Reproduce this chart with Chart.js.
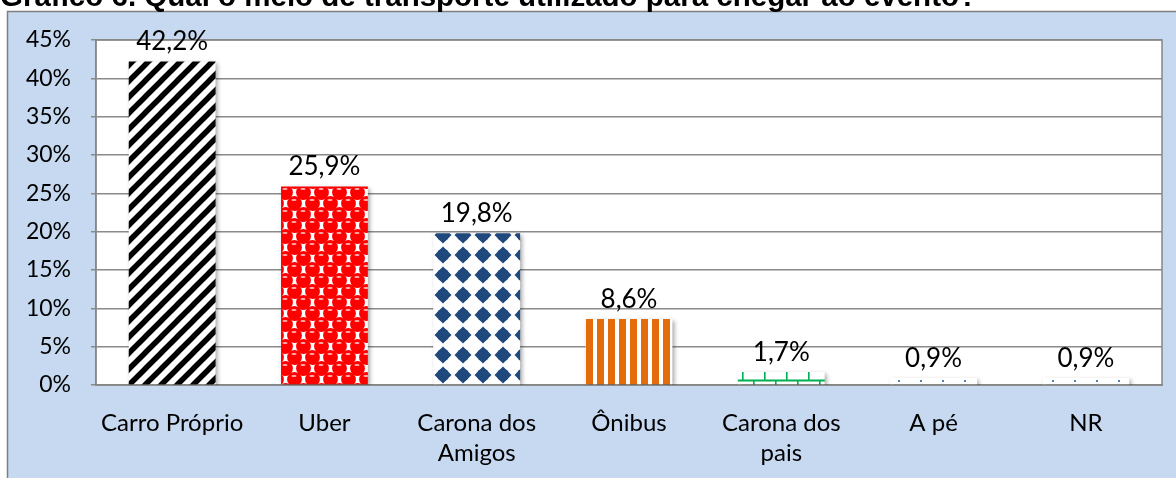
<!DOCTYPE html>
<html>
<head>
<meta charset="utf-8">
<script src="https://cdn.jsdelivr.net/npm/chart.js@4/dist/chart.umd.min.js"></script>
<style>
  html, body { margin: 0; padding: 0; background: #fff; }
  canvas { display: block; }
</style>
</head>
<body>
<canvas id="transportChart" width="1176" height="478"></canvas>
<script>
const chartTitle = 'Gráfico 6. Qual o meio de transporte utilizado para chegar ao evento?';
const categories = ['Carro Próprio', 'Uber', ['Carona dos', 'Amigos'], 'Ônibus', ['Carona dos', 'pais'], 'A pé', 'NR'];
const percentages = [42.2, 25.9, 19.8, 8.6, 1.7, 0.9, 0.9];
const valueLabels = ['42,2%', '25,9%', '19,8%', '8,6%', '1,7%', '0,9%', '0,9%'];
const yMin = 0, yMax = 45, yStep = 5;

const canvas = document.getElementById('transportChart');
const ctx = canvas.getContext('2d');

// small tiles that imitate the Excel fill patterns
function makePattern(w, h, draw) {
    const c = document.createElement('canvas');
    c.width = w; c.height = h;
    const g = c.getContext('2d');
    g.fillStyle = '#fff';
    g.fillRect(0, 0, w, h);
    draw(g, w, h);
    return ctx.createPattern(c, 'repeat');
}

const stripes = makePattern(16, 16, (g, w, h) => {
    g.strokeStyle = '#000';
    g.lineWidth = 5.5;
    for (let k = -1; k <= 1; k++) {
        g.beginPath();
        g.moveTo(k * w - 4, h + 4);
        g.lineTo(k * w + w + 4, -4);
        g.stroke();
    }
});

const spheres = makePattern(18, 22, (g, w, h) => {
    const centres = [[4.5, 5.5], [13.5, 16.5]];
    for (const [cx, cy] of centres) {
        for (const dx of [-w, 0, w]) {
            for (const dy of [-h, 0, h]) {
                g.fillStyle = '#ff0000';
                g.beginPath();
                g.arc(cx + dx, cy + dy, 7.4, 0, Math.PI * 2);
                g.fill();
            }
        }
    }
    for (const [cx, cy] of centres) {
        for (const dx of [-w, 0, w]) {
            for (const dy of [-h, 0, h]) {
                g.fillStyle = 'rgba(255,200,200,0.9)';
                g.beginPath();
                g.ellipse(cx + dx - 0.5, cy + dy - 3.5, 2.6, 1.1, 0, 0, Math.PI * 2);
                g.fill();
            }
        }
    }
});

const diamonds = makePattern(20, 20, (g) => {
    g.fillStyle = '#1f497d';
    g.beginPath();
    g.moveTo(10, 1.5);
    g.lineTo(18.5, 10);
    g.lineTo(10, 18.5);
    g.lineTo(1.5, 10);
    g.closePath();
    g.fill();
    g.beginPath();
    g.arc(10, 10, 6.2, 0, Math.PI * 2);
    g.fill();
});

const verticals = makePattern(11, 4, (g) => {
    g.fillStyle = '#e46c0a';
    g.fillRect(0, 0, 7, 4);
});

const bricks = makePattern(22, 16, (g) => {
    g.fillStyle = '#00b050';
    g.fillRect(0, 10.5, 22, 2);
    g.fillRect(4, 3, 1.6, 8);
    g.fillRect(15, 11, 1.6, 5);
    g.fillRect(15, 0, 1.6, 2);
});

const dots = makePattern(22, 8, (g) => {
    g.fillStyle = '#4f81bd';
    g.fillRect(10, 3, 2, 2);
});

const barPatterns = [stripes, spheres, diamonds, verticals, bricks, dots, dots];

const framePlugin = {
    id: 'frame',
    beforeDraw(chart) {
        const c = chart.ctx;
        const a = chart.chartArea;
        c.save();
        c.fillStyle = '#fff';
        c.fillRect(0, 0, chart.width, chart.height);
        c.fillStyle = '#c6d9f0';
        c.fillRect(7, 11, chart.width - 7, chart.height - 11);
        c.strokeStyle = '#7f7f7f';
        c.lineWidth = 1.5;
        c.beginPath();
        c.moveTo(7.5, chart.height);
        c.lineTo(7.5, 11.5);
        c.lineTo(chart.width, 11.5);
        c.stroke();
        c.fillStyle = '#fff';
        c.fillRect(a.left, a.top, a.right - a.left, a.bottom - a.top);
        // title, clipped by the top of the picture
        c.font = 'bold 100px "Liberation Sans", Arial, sans-serif';
        const size = 100 * 978 / c.measureText(chartTitle).width;
        c.font = 'bold ' + size.toFixed(1) + 'px "Liberation Sans", Arial, sans-serif';
        c.fillStyle = '#000';
        c.textBaseline = 'alphabetic';
        c.fillText(chartTitle, 0, 6);
        c.restore();
    },
    beforeDatasetsDraw(chart) {
        const c = chart.ctx;
        const a = chart.chartArea;
        c.save();
        c.strokeStyle = '#868686';
        c.lineWidth = 1.5;
        c.strokeRect(a.left, a.top, a.right - a.left, a.bottom - a.top);
        c.restore();
        // anchor each pattern at its own bar
        chart.getDatasetMeta(0).data.forEach((bar, i) => {
            const left = Math.round(bar.x - bar.width / 2);
            barPatterns[i].setTransform(new DOMMatrix([1, 0, 0, 1, left, a.bottom]));
        });
        c.save();
        c.shadowColor = 'rgba(0,0,0,0.35)';
        c.shadowBlur = 4;
        c.shadowOffsetX = 2;
        c.shadowOffsetY = 2;
    },
    afterDatasetsDraw(chart) {
        const c = chart.ctx;
        c.restore();
        c.save();
        c.font = '26px Lato, sans-serif';
        c.fillStyle = '#000';
        c.textAlign = 'center';
        c.textBaseline = 'alphabetic';
        chart.getDatasetMeta(0).data.forEach((bar, i) => {
            c.fillText(valueLabels[i], bar.x, bar.y - 11);
        });
        c.restore();
    }
};

new Chart(ctx, {
    type: 'bar',
    data: {
        labels: categories,
        datasets: [{
            data: percentages,
            backgroundColor: barPatterns,
            borderWidth: 0,
            categoryPercentage: 1,
            barPercentage: 0.57
        }]
    },
    options: {
        responsive: false,
        animation: false,
        layout: { padding: { left: 8, right: 14, top: 40, bottom: 0 } },
        plugins: {
            legend: { display: false },
            tooltip: { enabled: false }
        },
        scales: {
            x: {
                grid: { display: false, drawTicks: false },
                border: { display: true, color: '#868686', width: 1.5 },
                ticks: {
                    color: '#000',
                    font: { family: 'Lato', size: 24, lineHeight: 1.27 },
                    padding: 23,
                    maxRotation: 0,
                    autoSkip: false
                },
                afterFit(scale) { scale.height = 93; }
            },
            y: {
                min: yMin,
                max: yMax,
                grid: { color: '#8a8a8a', lineWidth: 1.5, drawTicks: true, tickLength: 5 },
                border: { display: true, color: '#868686', width: 1.5 },
                ticks: {
                    stepSize: yStep,
                    color: '#000',
                    font: { family: 'Lato', size: 23 },
                    padding: 20,
                    callback: (v) => v + '%'
                },
                afterFit(scale) { scale.width = 88; }
            }
        }
    },
    plugins: [framePlugin]
});
</script>
</body>
</html>
